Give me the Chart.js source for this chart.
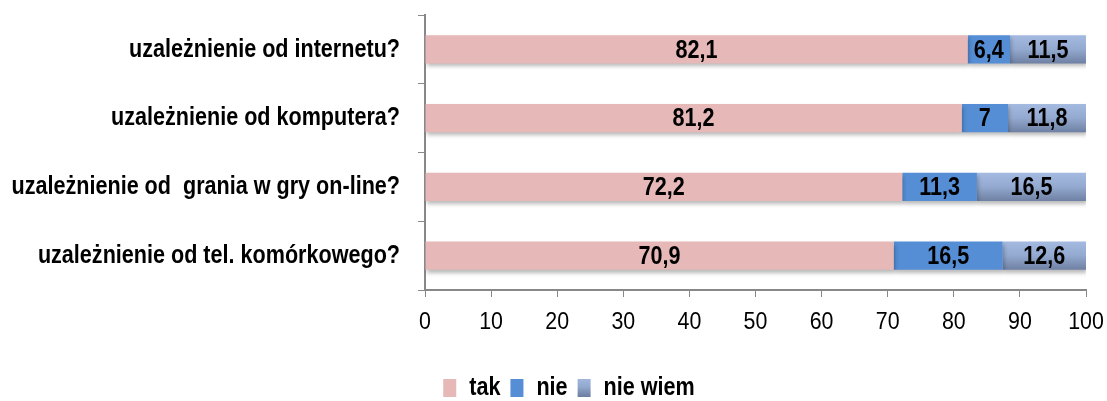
<!DOCTYPE html>
<html>
<head>
<meta charset="utf-8">
<script src="https://cdn.jsdelivr.net/npm/chart.js@4.4.1/dist/chart.umd.min.js"></script>
<style>
html,body{margin:0;padding:0;background:#fff;}
#wrap{width:1107px;height:401px;position:relative;}
</style>
</head>
<body>
<div id="wrap"><canvas id="c" width="1107" height="401"></canvas></div>
<script>
const categories = [
  'uzależnienie od internetu?',
  'uzależnienie od komputera?',
  'uzależnienie od  grania w gry on-line?',
  'uzależnienie od tel. komórkowego?'
];
const seriesNames = ['tak', 'nie', 'nie wiem'];
const takValues = [82.1, 81.2, 72.2, 70.9];
const nieValues = [6.4, 7, 11.3, 16.5];
const nieWiemValues = [11.5, 11.8, 16.5, 12.6];
const xTicks = [0, 10, 20, 30, 40, 50, 60, 70, 80, 90, 100];

const FONT = "'Liberation Sans Narrow', 'Arial Narrow', 'Liberation Sans', Arial, sans-serif";

const canvas = document.getElementById('c');
const ctx0 = canvas.getContext('2d');

// Condensed text rendering: narrow the installed sans horizontally (no narrow font is available)
(function () {
  const origFill = ctx0.fillText.bind(ctx0);
  const origMeasure = ctx0.measureText.bind(ctx0);
  const factor = () => (/bold|700/.test(ctx0.font) ? 0.83 : 0.93);
  ctx0.fillText = function (text, x, y, maxWidth) {
    const s = factor();
    ctx0.save();
    ctx0.translate(x, y);
    ctx0.scale(s, 1);
    origFill(text, 0, 0);
    ctx0.restore();
  };
  ctx0.measureText = function (text) {
    const m = origMeasure(text);
    const s = factor();
    return {
      width: m.width * s,
      actualBoundingBoxAscent: m.actualBoundingBoxAscent,
      actualBoundingBoxDescent: m.actualBoundingBoxDescent,
      actualBoundingBoxLeft: m.actualBoundingBoxLeft * s,
      actualBoundingBoxRight: m.actualBoundingBoxRight * s
    };
  };
})();

function vGrad(c, y0, y1) {
  const g = c.createLinearGradient(0, y0, 0, y1);
  g.addColorStop(0, '#A5BAE0');
  g.addColorStop(0.5, '#94A9CF');
  g.addColorStop(1, '#6E81A4');
  return g;
}

const legendGrad = vGrad(ctx0, 377, 396);

const gradientPlugin = {
  id: 'nieWiemGradient',
  beforeDatasetsDraw(chart) {
    const meta = chart.getDatasetMeta(2);
    meta.data.forEach(el => {
      const h = el.height;
      el.options = Object.assign({}, el.options, {
        backgroundColor: vGrad(chart.ctx, el.y - h / 2, el.y + h / 2)
      });
    });
  }
};

const legendShiftPlugin = {
  id: 'legendShift',
  afterLayout(chart) {
    const l = chart.legend;
    if (l) { l.left += 22; l.right += 22; }
  }
};

const shadowPlugin = {
  id: 'barShadow',
  beforeDatasetsDraw(chart) {
    const c = chart.ctx;
    c.save();
    c.shadowColor = 'rgba(0,0,0,0.28)';
    c.shadowBlur = 4;
    c.shadowOffsetX = 1;
    c.shadowOffsetY = 3;
  },
  afterDatasetsDraw(chart) {
    chart.ctx.restore();
  }
};

const labelPlugin = {
  id: 'valueLabels',
  afterDatasetsDraw(chart) {
    const c = chart.ctx;
    c.save();
    c.font = "bold 26px " + FONT;
    c.fillStyle = '#000';
    c.textAlign = 'center';
    c.textBaseline = 'middle';
    chart.data.datasets.forEach((ds, i) => {
      const meta = chart.getDatasetMeta(i);
      meta.data.forEach((bar, j) => {
        const v = ds.data[j];
        const cx = (bar.x + bar.base) / 2;
        c.fillText(String(v).replace('.', ','), cx, bar.y + 1);
      });
    });
    c.restore();
  }
};

new Chart(canvas, {
  type: 'bar',
  data: {
    labels: categories,
    datasets: [
      { label: seriesNames[0], data: takValues, backgroundColor: '#E6B9B8' },
      { label: seriesNames[1], data: nieValues, backgroundColor: '#558ED5' },
      { label: seriesNames[2], data: nieWiemValues, backgroundColor: legendGrad }
    ]
  },
  options: {
    indexAxis: 'y',
    responsive: false,
    animation: false,
    devicePixelRatio: 1,
    barPercentage: 0.82,
    categoryPercentage: 0.5,
    layout: { padding: { top: 15, right: 21, left: 8, bottom: -10 } },
    scales: {
      x: {
        stacked: true,
        min: 0,
        max: 100,
        afterBuildTicks(scale) { scale.ticks = xTicks.map(v => ({ value: v })); },
        afterFit(scale) { scale.height = 75; scale.paddingLeft = 0; scale.paddingRight = 0; },
        grid: {
          drawOnChartArea: false,
          drawTicks: true,
          tickLength: 7,
          color: '#888',
          tickColor: '#888'
        },
        border: { display: true, color: '#888', width: 2 },
        ticks: {
          color: '#000',
          font: { family: FONT, size: 23 },
          padding: 12,
          maxRotation: 0
        }
      },
      y: {
        stacked: true,
        afterFit(scale) { scale.width = 417; scale.paddingTop = 0; scale.paddingBottom = 0; },
        grid: {
          offset: true,
          drawOnChartArea: false,
          drawTicks: true,
          tickLength: 7,
          color: '#888',
          tickColor: '#888'
        },
        border: { display: true, color: '#888', width: 2 },
        ticks: {
          color: '#000',
          font: { family: FONT, size: 26, weight: 'bold' },
          padding: 18
        }
      }
    },
    plugins: {
      legend: {
        position: 'bottom',
        labels: {
          color: '#000',
          font: { family: FONT, size: 26, weight: 'bold' },
          boxWidth: 13,
          boxHeight: 18,
          padding: 10
        }
      },
      tooltip: { enabled: false }
    }
  },
  plugins: [legendShiftPlugin, gradientPlugin, shadowPlugin, labelPlugin]
});
</script>
</body>
</html>
